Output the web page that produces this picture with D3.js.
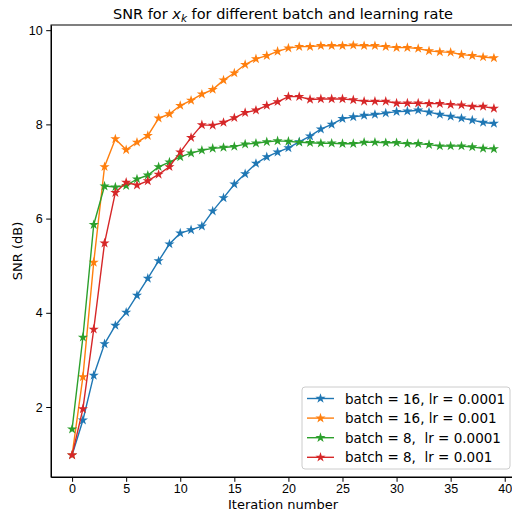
<!DOCTYPE html>
<html>
<head>
<meta charset="utf-8">
<script src="https://cdn.jsdelivr.net/npm/d3@7"></script>
<style>
  body { margin: 0; background: #fff; }
  svg { display: block; font-family: "DejaVu Sans", sans-serif; }
  .tick text { font-size: 12.5px; fill: #000; }
  .tick line, .domain { stroke: #000; }
</style>
</head>
<body>
<div id="chart"></div>
<script>
// values
var iterations = d3.range(0, 40);
var b16lr1e4 = [0.98, 1.72, 2.67, 3.34, 3.73, 4.01, 4.37, 4.73, 5.10, 5.46,
                5.69, 5.76, 5.84, 6.16, 6.44, 6.73, 6.95, 7.17, 7.31, 7.41,
                7.50, 7.63, 7.75, 7.90, 8.00, 8.12, 8.16, 8.19, 8.21, 8.24,
                8.27, 8.28, 8.30, 8.26, 8.21, 8.17, 8.13, 8.09, 8.04, 8.02];
var b16lr1e3 = [0.98, 2.64, 5.07, 7.10, 7.69, 7.46, 7.62, 7.76, 8.13, 8.22,
                8.40, 8.51, 8.64, 8.74, 8.94, 9.09, 9.27, 9.39, 9.46, 9.55,
                9.62, 9.65, 9.65, 9.67, 9.67, 9.67, 9.68, 9.67, 9.67, 9.65,
                9.63, 9.63, 9.61, 9.56, 9.54, 9.53, 9.48, 9.46, 9.43, 9.41];
var b8lr1e4 = [1.53, 3.48, 5.87, 6.69, 6.67, 6.70, 6.84, 6.92, 7.10, 7.20,
               7.31, 7.39, 7.45, 7.49, 7.51, 7.53, 7.58, 7.60, 7.63, 7.65,
               7.64, 7.62, 7.61, 7.60, 7.60, 7.59, 7.59, 7.62, 7.62, 7.61,
               7.61, 7.59, 7.59, 7.57, 7.54, 7.54, 7.54, 7.52, 7.49, 7.48];
var b8lr1e3 = [0.98, 1.96, 3.65, 5.48, 6.55, 6.77, 6.71, 6.80, 6.94, 7.10,
               7.41, 7.72, 7.99, 7.98, 8.04, 8.14, 8.25, 8.30, 8.40, 8.48,
               8.59, 8.59, 8.53, 8.54, 8.54, 8.54, 8.52, 8.49, 8.49, 8.49,
               8.45, 8.45, 8.45, 8.44, 8.44, 8.42, 8.41, 8.38, 8.38, 8.34];
var labels = ["batch = 16, lr = 0.0001", "batch = 16, lr = 0.001",
              "batch = 8,  lr = 0.0001", "batch = 8,  lr = 0.001"];
var colors = ["#1f77b4", "#ff7f0e", "#2ca02c", "#d62728"];
var xTicks = [0, 5, 10, 15, 20, 25, 30, 35, 40];
var yTicks = [2, 4, 6, 8, 10];

var series = [b16lr1e4, b16lr1e3, b8lr1e4, b8lr1e3];

var W = 512, H = 512;
var margin = {left: 51, right: -3, top: 25, bottom: 35};

var svg = d3.select("#chart").append("svg")
    .attr("width", W).attr("height", H);

var x = d3.scaleLinear().domain([-1.95, 40.95])
    .range([margin.left, W - margin.right]);
var y = d3.scaleLinear().domain([0.514, 10.11])
    .range([H - margin.bottom, margin.top]);

svg.append("g")
    .attr("transform", "translate(0," + (H - margin.bottom) + ")")
    .call(d3.axisBottom(x).tickValues(xTicks).tickSize(4.8).tickSizeOuter(0).tickPadding(2.5));
svg.append("g")
    .attr("transform", "translate(" + margin.left + ",0)")
    .call(d3.axisLeft(y).tickValues(yTicks).tickSize(4.8).tickSizeOuter(0).tickPadding(3.5));

// frame
svg.append("rect")
    .attr("x", margin.left).attr("y", margin.top)
    .attr("width", x.range()[1] - margin.left)
    .attr("height", H - margin.bottom - margin.top)
    .attr("fill", "none").attr("stroke", "#000").attr("stroke-width", 1);

var star = d3.symbol().type(d3.symbolStar).size(32);

var line = d3.line()
    .x(function(d, i) { return x(iterations[i]); })
    .y(function(d) { return y(d); });

series.forEach(function(s, k) {
  var g = svg.append("g");
  g.append("path").datum(s)
    .attr("d", line)
    .attr("fill", "none")
    .attr("stroke", colors[k])
    .attr("stroke-width", 1.4);
  g.selectAll("path.m").data(s).enter().append("path")
    .attr("class", "m")
    .attr("d", star)
    .attr("transform", function(d, i) {
      return "translate(" + x(iterations[i]) + "," + y(d) + ")";
    })
    .attr("fill", colors[k]);
});

// title
var title = svg.append("text")
    .attr("x", (margin.left + x.range()[1]) / 2)
    .attr("y", 19)
    .attr("text-anchor", "middle")
    .style("font-size", "14.5px");
title.append("tspan").text("SNR for ");
title.append("tspan").style("font-style", "italic").text("x");
title.append("tspan").style("font-style", "italic").style("font-size", "10.5px")
    .attr("dy", 3).text("k");
title.append("tspan").attr("dy", -3).text(" for different batch and learning rate");

svg.append("text")
    .attr("x", (margin.left + x.range()[1]) / 2)
    .attr("y", 509)
    .attr("text-anchor", "middle")
    .style("font-size", "13px")
    .text("Iteration number");

svg.append("text")
    .attr("transform", "translate(22," + ((margin.top + H - margin.bottom) / 2) + ") rotate(-90)")
    .attr("text-anchor", "middle")
    .style("font-size", "13px")
    .text("SNR (dB)");

// legend
var lg = svg.append("g").attr("transform", "translate(302,387)");
lg.append("rect")
  .attr("width", 208).attr("height", 82).attr("rx", 3)
  .attr("fill", "#fff").attr("fill-opacity", 0.8)
  .attr("stroke", "#ccc");
labels.forEach(function(t, k) {
  var yy = 11.5 + k * 19.6;
  lg.append("line").attr("x1", 5).attr("x2", 32).attr("y1", yy).attr("y2", yy)
    .attr("stroke", colors[k]).attr("stroke-width", 1.4);
  lg.append("path").attr("d", star).attr("fill", colors[k])
    .attr("transform", "translate(18.5," + yy + ")");
  lg.append("text").attr("x", 43).attr("y", yy + 5)
    .style("font-size", "13.5px").style("white-space", "pre")
    .attr("xml:space", "preserve")
    .text(t);
});
</script>
</body>
</html>
